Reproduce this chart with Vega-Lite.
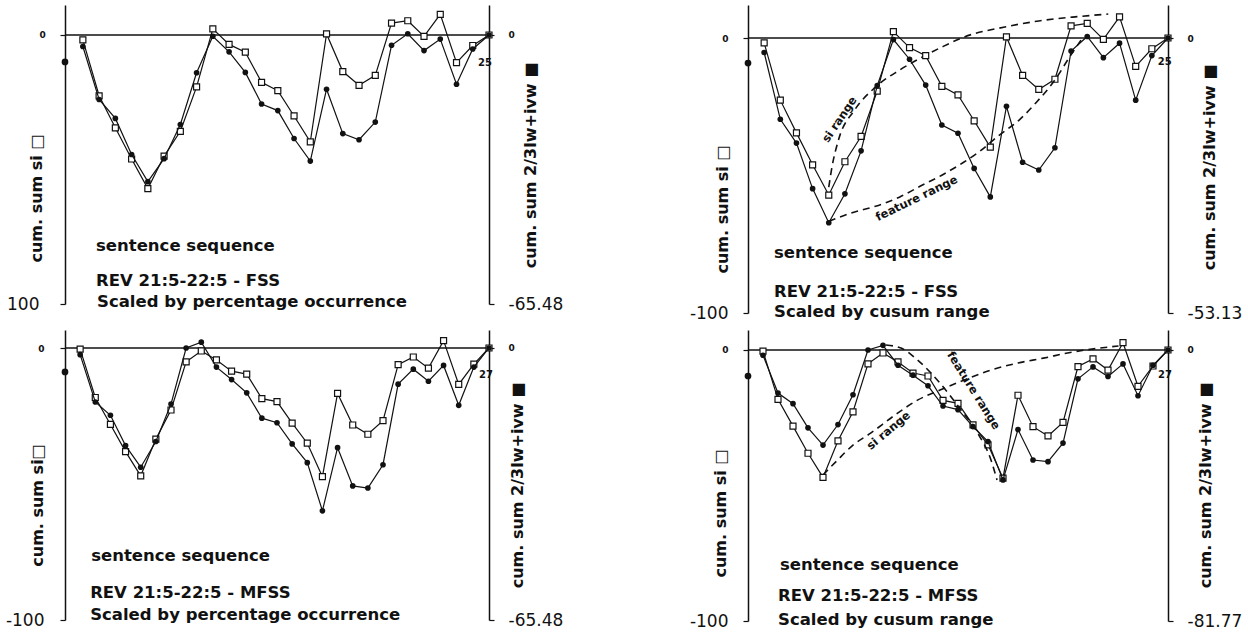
{
  "$schema": "https://vega.github.io/schema/vega-lite/v6.json",
  "background": "white",
  "padding": {"left": 5, "top": 5, "right": 0, "bottom": 0},
  "datasets": {
    "fss": [
      {"i": 0, "si": -1.8, "feat": -2.8},
      {"i": 1, "si": -22.6, "feat": -15.7},
      {"i": 2, "si": -34.5, "feat": -20.3},
      {"i": 3, "si": -46.1, "feat": -29.1},
      {"i": 4, "si": -57.1, "feat": -35.7},
      {"i": 5, "si": -45.0, "feat": -30.1},
      {"i": 6, "si": -35.8, "feat": -21.8},
      {"i": 7, "si": -19.3, "feat": -9.2},
      {"i": 8, "si": 2.3, "feat": -0.3},
      {"i": 9, "si": -3.5, "feat": -4.1},
      {"i": 10, "si": -6.4, "feat": -9.1},
      {"i": 11, "si": -17.6, "feat": -16.8},
      {"i": 12, "si": -20.7, "feat": -18.4},
      {"i": 13, "si": -30.1, "feat": -25.2},
      {"i": 14, "si": -39.7, "feat": -30.7},
      {"i": 15, "si": 0.4, "feat": -13.2},
      {"i": 16, "si": -13.6, "feat": -24.0},
      {"i": 17, "si": -18.7, "feat": -25.5},
      {"i": 18, "si": -15.0, "feat": -21.2},
      {"i": 19, "si": 4.4, "feat": -2.5},
      {"i": 20, "si": 5.3, "feat": 0.3},
      {"i": 21, "si": -0.5, "feat": -3.8},
      {"i": 22, "si": 7.7, "feat": -1.0},
      {"i": 23, "si": -10.3, "feat": -12.0},
      {"i": 24, "si": -3.9, "feat": -3.4},
      {"i": 25, "si": 0, "feat": 0}
    ],
    "mfss": [
      {"i": 0, "si": -0.4, "feat": -1.6},
      {"i": 1, "si": -18.2, "feat": -13.0},
      {"i": 2, "si": -28.1, "feat": -16.2},
      {"i": 3, "si": -38.1, "feat": -23.5},
      {"i": 4, "si": -47.0, "feat": -28.7},
      {"i": 5, "si": -33.5, "feat": -22.5},
      {"i": 6, "si": -22.8, "feat": -13.5},
      {"i": 7, "si": -5.1, "feat": 0},
      {"i": 8, "si": -1.1, "feat": 1.4},
      {"i": 9, "si": -4.4, "feat": -4.6},
      {"i": 10, "si": -8.5, "feat": -7.6},
      {"i": 11, "si": -9.6, "feat": -10.8},
      {"i": 12, "si": -18.6, "feat": -16.9},
      {"i": 13, "si": -19.7, "feat": -18.0},
      {"i": 14, "si": -27.6, "feat": -23.1},
      {"i": 15, "si": -35.0, "feat": -27.6},
      {"i": 16, "si": -47.3, "feat": -39.2},
      {"i": 17, "si": -16.7, "feat": -24.0},
      {"i": 18, "si": -28.3, "feat": -33.2},
      {"i": 19, "si": -31.7, "feat": -33.7},
      {"i": 20, "si": -26.7, "feat": -28.1},
      {"i": 21, "si": -6.1, "feat": -8.7},
      {"i": 22, "si": -3.3, "feat": -5.1},
      {"i": 23, "si": -7.4, "feat": -8.0},
      {"i": 24, "si": 2.7, "feat": -4.2},
      {"i": 25, "si": -13.4, "feat": -13.8},
      {"i": 26, "si": -5.9, "feat": -4.6},
      {"i": 27, "si": 0, "feat": 0}
    ],
    "p2si": [
      {"i": 4.0, "si": -54.2}, {"i": 4.2, "si": -46.9}, {"i": 4.6, "si": -37.1}, {"i": 5.6, "si": -26.2},
      {"i": 6.9, "si": -17.8}, {"i": 8.4, "si": -11.6}, {"i": 9.8, "si": -6.9}, {"i": 11.0, "si": -3.3},
      {"i": 12.4, "si": 0.4}, {"i": 14.9, "si": 4.0}, {"i": 17.0, "si": 6.2}, {"i": 19.1, "si": 7.6}, {"i": 21.3, "si": 8.7}
    ],
    "p2feat": [
      {"i": 4.0, "feat": -35.4}, {"i": 5.6, "feat": -33.6}, {"i": 6.9, "feat": -32.5}, {"i": 8.4, "feat": -30.7},
      {"i": 9.8, "feat": -28.4}, {"i": 11.0, "feat": -26.5}, {"i": 12.3, "feat": -24.1}, {"i": 13.3, "feat": -22.0},
      {"i": 14.5, "feat": -18.9}, {"i": 15.8, "feat": -15.8}, {"i": 16.8, "feat": -12.6}, {"i": 18.0, "feat": -8.1},
      {"i": 18.9, "feat": -3.7}, {"i": 19.7, "feat": 0}
    ],
    "p4si": [
      {"i": 4.0, "si": -46.1}, {"i": 4.9, "si": -41.0}, {"i": 6.0, "si": -35.1}, {"i": 7.2, "si": -30.6},
      {"i": 8.7, "si": -24.4}, {"i": 10.3, "si": -18.5}, {"i": 11.8, "si": -14.8}, {"i": 13.4, "si": -11.1},
      {"i": 15.2, "si": -7.4}, {"i": 17.0, "si": -4.8}, {"i": 18.7, "si": -3.0}, {"i": 20.3, "si": -1.1}, {"i": 23.7, "si": 1.5}
    ],
    "p4feat": [
      {"i": 8.2, "feat": 1.5}, {"i": 9.2, "feat": 0.6}, {"i": 10.3, "feat": -3.0}, {"i": 11.8, "feat": -10.0},
      {"i": 13.2, "feat": -18.1}, {"i": 14.3, "feat": -25.0}, {"i": 15.2, "feat": -33.2}, {"i": 15.6, "feat": -39.2}
    ]
  },
  "vconcat": [
    {
      "spacing": 126,
      "hconcat": [
        {
          "width": 424, "height": 299,
          "resolve": {"scale": {"y": "independent"}},
          "layer": [
            {"layer": [
              {"data": {"values": [{}]}, "mark": {"type": "rule", "color": "#111", "strokeWidth": 1.4}, "encoding": {"y": {"datum": 0, "type": "quantitative"}}},
              {"data": {"name": "fss"}, "mark": {"type": "line", "color": "#111", "strokeWidth": 1.2},
               "encoding": {
                 "x": {"field": "i", "type": "quantitative", "scale": {"domain": [-1.1, 25], "nice": false, "zero": false}, "axis": null},
                 "y": {"field": "si", "type": "quantitative", "scale": {"domain": [-100, 11.15], "nice": false, "zero": false},
                   "axis": {"orient": "left", "values": [0, -100], "title": "cum. sum si □",
                     "labelExpr": "datum.value == 0 ? '0' : '100'",
                     "labelFontSize": {"condition": {"test": "datum.value == 0", "value": 9}, "value": 17},
                     "labelFontWeight": {"condition": {"test": "datum.value == 0", "value": "bold"}, "value": "normal"},
                     "labelAlign": {"condition": {"test": "datum.value == 0", "value": "left"}, "value": "right"},
                     "labelPadding": 21, "titleX": -29, "titleY": 193}}}},
              {"data": {"name": "fss"}, "mark": {"type": "point", "shape": "square", "fill": "white", "stroke": "#111", "strokeWidth": 1.2, "size": 36, "opacity": 1},
               "encoding": {"x": {"field": "i", "type": "quantitative"}, "y": {"field": "si", "type": "quantitative"}}},
              {"data": {"values": [{}]}, "mark": {"type": "point", "shape": "circle", "filled": true, "color": "#111", "size": 45, "opacity": 1},
               "encoding": {"x": {"datum": -1.1, "type": "quantitative"}, "y": {"datum": -10, "type": "quantitative"}}},
              {"data": {"values": [{}]}, "mark": {"type": "text", "text": "25", "fontSize": 10, "align": "center", "baseline": "middle"},
               "encoding": {"x": {"datum": 24.75, "type": "quantitative"}, "y": {"datum": -10.4, "type": "quantitative"}}},
              {"data": {"values": [{}]}, "mark": {"type": "text", "text": "sentence sequence", "fontSize": 16.5, "align": "left", "baseline": "alphabetic"},
               "encoding": {"x": {"datum": 0.81, "type": "quantitative"}, "y": {"datum": -80.2, "type": "quantitative"}}},
              {"data": {"values": [{}]}, "mark": {"type": "text", "text": "REV 21:5-22:5 - FSS", "fontSize": 16.5, "align": "left", "baseline": "alphabetic"},
               "encoding": {"x": {"datum": 0.81, "type": "quantitative"}, "y": {"datum": -93.3, "type": "quantitative"}}},
              {"data": {"values": [{}]}, "mark": {"type": "text", "text": "Scaled by percentage occurrence", "fontSize": 16.5, "align": "left", "baseline": "alphabetic"},
               "encoding": {"x": {"datum": 0.87, "type": "quantitative"}, "y": {"datum": -101, "type": "quantitative"}}}
            ]},
            {"layer": [
              {"data": {"name": "fss"}, "mark": {"type": "line", "color": "#111", "strokeWidth": 1.2},
               "encoding": {
                 "x": {"field": "i", "type": "quantitative", "scale": {"domain": [-1.1, 25], "nice": false, "zero": false}, "axis": null},
                 "y": {"field": "feat", "type": "quantitative", "scale": {"domain": [-65.48, 7.3], "nice": false, "zero": false},
                   "axis": {"orient": "right", "values": [0, -65.48], "title": "cum. sum 2/3lw+ivw ■",
                     "labelExpr": "datum.value == 0 ? '0' : '-65.48'",
                     "labelFontSize": {"condition": {"test": "datum.value == 0", "value": 9}, "value": 17},
                     "labelFontWeight": {"condition": {"test": "datum.value == 0", "value": "bold"}, "value": "normal"},
                     "labelPadding": 14, "titleX": 41, "titleY": 160}}}},
              {"data": {"name": "fss"}, "mark": {"type": "point", "shape": "circle", "filled": true, "color": "#111", "size": 32, "opacity": 1},
               "encoding": {"x": {"field": "i", "type": "quantitative"}, "y": {"field": "feat", "type": "quantitative"}}}
            ]}
          ]
        },
        {
          "width": 420, "height": 308,
          "resolve": {"scale": {"y": "independent"}},
          "layer": [
            {"layer": [
              {"data": {"values": [{}]}, "mark": {"type": "rule", "color": "#111", "strokeWidth": 1.4}, "encoding": {"y": {"datum": 0, "type": "quantitative"}}},
              {"data": {"name": "fss"}, "mark": {"type": "line", "color": "#111", "strokeWidth": 1.2},
               "encoding": {
                 "x": {"field": "i", "type": "quantitative", "scale": {"domain": [-1, 25], "nice": false, "zero": false}, "axis": null},
                 "y": {"field": "si", "type": "quantitative", "scale": {"domain": [-100, 12.0], "nice": false, "zero": false},
                   "axis": {"orient": "left", "values": [0, -100], "title": "cum. sum si □",
                     "labelExpr": "datum.value == 0 ? '0' : '-100'",
                     "labelFontSize": {"condition": {"test": "datum.value == 0", "value": 9}, "value": 17},
                     "labelFontWeight": {"condition": {"test": "datum.value == 0", "value": "bold"}, "value": "normal"},
                     "labelAlign": "right",
                     "labelPadding": 15, "titleX": -26, "titleY": 204}}}},
              {"data": {"name": "p2si"}, "mark": {"type": "line", "color": "#111", "strokeWidth": 1.6, "strokeDash": [7, 5], "interpolate": "monotone"},
               "encoding": {"x": {"field": "i", "type": "quantitative"}, "y": {"field": "si", "type": "quantitative"}}},
              {"data": {"name": "fss"}, "mark": {"type": "point", "shape": "square", "fill": "white", "stroke": "#111", "strokeWidth": 1.2, "size": 36, "opacity": 1},
               "encoding": {"x": {"field": "i", "type": "quantitative"}, "y": {"field": "si", "type": "quantitative"}}},
              {"data": {"values": [{}]}, "mark": {"type": "point", "shape": "circle", "filled": true, "color": "#111", "size": 45, "opacity": 1},
               "encoding": {"x": {"datum": -1, "type": "quantitative"}, "y": {"datum": -9.1, "type": "quantitative"}}},
              {"data": {"values": [{}]}, "mark": {"type": "text", "text": "25", "fontSize": 10, "align": "center", "baseline": "middle"},
               "encoding": {"x": {"datum": 24.8, "type": "quantitative"}, "y": {"datum": -8.7, "type": "quantitative"}}},
              {"data": {"values": [{}]}, "mark": {"type": "text", "text": "si range", "fontSize": 11.5, "align": "center", "baseline": "middle", "angle": -56},
               "encoding": {"x": {"datum": 4.7, "type": "quantitative"}, "y": {"datum": -29.8, "type": "quantitative"}}},
              {"data": {"values": [{}]}, "mark": {"type": "text", "text": "feature range", "fontSize": 11.5, "align": "center", "baseline": "middle", "angle": -26},
               "encoding": {"x": {"datum": 9.46, "type": "quantitative"}, "y": {"datum": -58.5, "type": "quantitative"}}},
              {"data": {"values": [{}]}, "mark": {"type": "text", "text": "sentence sequence", "fontSize": 16.5, "align": "left", "baseline": "alphabetic"},
               "encoding": {"x": {"datum": 0.61, "type": "quantitative"}, "y": {"datum": -80, "type": "quantitative"}}},
              {"data": {"values": [{}]}, "mark": {"type": "text", "text": "REV 21:5-22:5 - FSS", "fontSize": 16.5, "align": "left", "baseline": "alphabetic"},
               "encoding": {"x": {"datum": 0.61, "type": "quantitative"}, "y": {"datum": -94.1, "type": "quantitative"}}},
              {"data": {"values": [{}]}, "mark": {"type": "text", "text": "Scaled by cusum range", "fontSize": 16.5, "align": "left", "baseline": "alphabetic"},
               "encoding": {"x": {"datum": 0.61, "type": "quantitative"}, "y": {"datum": -101.3, "type": "quantitative"}}}
            ]},
            {"layer": [
              {"data": {"name": "fss"}, "mark": {"type": "line", "color": "#111", "strokeWidth": 1.2},
               "encoding": {
                 "x": {"field": "i", "type": "quantitative", "scale": {"domain": [-1, 25], "nice": false, "zero": false}, "axis": null},
                 "y": {"field": "feat", "type": "quantitative", "scale": {"domain": [-53.13, 6.38], "nice": false, "zero": false},
                   "axis": {"orient": "right", "values": [0, -53.13], "title": "cum. sum 2/3lw+ivw ■",
                     "labelExpr": "datum.value == 0 ? '0' : '-53.13'",
                     "labelFontSize": {"condition": {"test": "datum.value == 0", "value": 9}, "value": 17},
                     "labelFontWeight": {"condition": {"test": "datum.value == 0", "value": "bold"}, "value": "normal"},
                     "labelPadding": 14, "titleX": 41, "titleY": 162}}}},
              {"data": {"name": "p2feat"}, "mark": {"type": "line", "color": "#111", "strokeWidth": 1.6, "strokeDash": [7, 5], "interpolate": "monotone"},
               "encoding": {"x": {"field": "i", "type": "quantitative"}, "y": {"field": "feat", "type": "quantitative"}}},
              {"data": {"name": "fss"}, "mark": {"type": "point", "shape": "circle", "filled": true, "color": "#111", "size": 32, "opacity": 1},
               "encoding": {"x": {"field": "i", "type": "quantitative"}, "y": {"field": "feat", "type": "quantitative"}}}
            ]}
          ]
        }
      ]
    },
    {
      "spacing": 126,
      "hconcat": [
        {
          "width": 424, "height": 290,
          "resolve": {"scale": {"y": "independent"}},
          "layer": [
            {"layer": [
              {"data": {"values": [{}]}, "mark": {"type": "rule", "color": "#111", "strokeWidth": 1.4}, "encoding": {"y": {"datum": 0, "type": "quantitative"}}},
              {"data": {"name": "mfss"}, "mark": {"type": "line", "color": "#111", "strokeWidth": 1.2},
               "encoding": {
                 "x": {"field": "i", "type": "quantitative", "scale": {"domain": [-1, 27], "nice": false, "zero": false}, "axis": null},
                 "y": {"field": "si", "type": "quantitative", "scale": {"domain": [-100, 6.62], "nice": false, "zero": false},
                   "axis": {"orient": "left", "values": [0, -100], "title": "cum. sum si□",
                     "labelExpr": "datum.value == 0 ? '0' : '-100'",
                     "labelFontSize": {"condition": {"test": "datum.value == 0", "value": 9}, "value": 17},
                     "labelFontWeight": {"condition": {"test": "datum.value == 0", "value": "bold"}, "value": "normal"},
                     "labelAlign": "right",
                     "labelPadding": 16, "titleX": -28, "titleY": 175}}}},
              {"data": {"name": "mfss"}, "mark": {"type": "point", "shape": "square", "fill": "white", "stroke": "#111", "strokeWidth": 1.2, "size": 36, "opacity": 1},
               "encoding": {"x": {"field": "i", "type": "quantitative"}, "y": {"field": "si", "type": "quantitative"}}},
              {"data": {"values": [{}]}, "mark": {"type": "point", "shape": "circle", "filled": true, "color": "#111", "size": 45, "opacity": 1},
               "encoding": {"x": {"datum": -1, "type": "quantitative"}, "y": {"datum": -8.8, "type": "quantitative"}}},
              {"data": {"values": [{}]}, "mark": {"type": "text", "text": "27", "fontSize": 10, "align": "center", "baseline": "middle"},
               "encoding": {"x": {"datum": 26.8, "type": "quantitative"}, "y": {"datum": -10, "type": "quantitative"}}},
              {"data": {"values": [{}]}, "mark": {"type": "text", "text": "sentence sequence", "fontSize": 16.5, "align": "left", "baseline": "alphabetic"},
               "encoding": {"x": {"datum": 0.73, "type": "quantitative"}, "y": {"datum": -78.4, "type": "quantitative"}}},
              {"data": {"values": [{}]}, "mark": {"type": "text", "text": "REV 21:5-22:5 - MFSS", "fontSize": 16.5, "align": "left", "baseline": "alphabetic"},
               "encoding": {"x": {"datum": 0.66, "type": "quantitative"}, "y": {"datum": -91.9, "type": "quantitative"}}},
              {"data": {"values": [{}]}, "mark": {"type": "text", "text": "Scaled by percentage occurrence", "fontSize": 16.5, "align": "left", "baseline": "alphabetic"},
               "encoding": {"x": {"datum": 0.66, "type": "quantitative"}, "y": {"datum": -99.9, "type": "quantitative"}}}
            ]},
            {"layer": [
              {"data": {"name": "mfss"}, "mark": {"type": "line", "color": "#111", "strokeWidth": 1.2},
               "encoding": {
                 "x": {"field": "i", "type": "quantitative", "scale": {"domain": [-1, 27], "nice": false, "zero": false}, "axis": null},
                 "y": {"field": "feat", "type": "quantitative", "scale": {"domain": [-65.48, 4.33], "nice": false, "zero": false},
                   "axis": {"orient": "right", "values": [0, -65.48], "title": "cum. sum 2/3lw+ivw ■",
                     "labelExpr": "datum.value == 0 ? '0' : '-65.48'",
                     "labelFontSize": {"condition": {"test": "datum.value == 0", "value": 9}, "value": 17},
                     "labelFontWeight": {"condition": {"test": "datum.value == 0", "value": "bold"}, "value": "normal"},
                     "labelPadding": 14, "titleX": 28, "titleY": 155}}}},
              {"data": {"name": "mfss"}, "mark": {"type": "point", "shape": "circle", "filled": true, "color": "#111", "size": 32, "opacity": 1},
               "encoding": {"x": {"field": "i", "type": "quantitative"}, "y": {"field": "feat", "type": "quantitative"}}}
            ]}
          ]
        },
        {
          "width": 420, "height": 291,
          "resolve": {"scale": {"y": "independent"}},
          "layer": [
            {"layer": [
              {"data": {"values": [{}]}, "mark": {"type": "rule", "color": "#111", "strokeWidth": 1.4}, "encoding": {"y": {"datum": 0, "type": "quantitative"}}},
              {"data": {"name": "mfss"}, "mark": {"type": "line", "color": "#111", "strokeWidth": 1.2},
               "encoding": {
                 "x": {"field": "i", "type": "quantitative", "scale": {"domain": [-1, 27], "nice": false, "zero": false}, "axis": null},
                 "y": {"field": "si", "type": "quantitative", "scale": {"domain": [-100, 7.38], "nice": false, "zero": false},
                   "axis": {"orient": "left", "values": [0, -100], "title": "cum. sum si  □",
                     "labelExpr": "datum.value == 0 ? '0' : '-100'",
                     "labelFontSize": {"condition": {"test": "datum.value == 0", "value": 9}, "value": 17},
                     "labelFontWeight": {"condition": {"test": "datum.value == 0", "value": "bold"}, "value": "normal"},
                     "labelAlign": "right",
                     "labelPadding": 15, "titleX": -28, "titleY": 183}}}},
              {"data": {"name": "p4si"}, "mark": {"type": "line", "color": "#111", "strokeWidth": 1.6, "strokeDash": [7, 5], "interpolate": "monotone"},
               "encoding": {"x": {"field": "i", "type": "quantitative"}, "y": {"field": "si", "type": "quantitative"}}},
              {"data": {"name": "mfss"}, "mark": {"type": "point", "shape": "square", "fill": "white", "stroke": "#111", "strokeWidth": 1.2, "size": 36, "opacity": 1},
               "encoding": {"x": {"field": "i", "type": "quantitative"}, "y": {"field": "si", "type": "quantitative"}}},
              {"data": {"values": [{}]}, "mark": {"type": "point", "shape": "circle", "filled": true, "color": "#111", "size": 45, "opacity": 1},
               "encoding": {"x": {"datum": -1, "type": "quantitative"}, "y": {"datum": -9.6, "type": "quantitative"}}},
              {"data": {"values": [{}]}, "mark": {"type": "text", "text": "27", "fontSize": 10, "align": "center", "baseline": "middle"},
               "encoding": {"x": {"datum": 26.8, "type": "quantitative"}, "y": {"datum": -9.2, "type": "quantitative"}}},
              {"data": {"values": [{}]}, "mark": {"type": "text", "text": "si range", "fontSize": 11.5, "align": "center", "baseline": "middle", "angle": -40},
               "encoding": {"x": {"datum": 8.4, "type": "quantitative"}, "y": {"datum": -29.9, "type": "quantitative"}}},
              {"data": {"values": [{}]}, "mark": {"type": "text", "text": "feature range", "fontSize": 11.5, "align": "center", "baseline": "middle", "angle": 58},
               "encoding": {"x": {"datum": 14.0, "type": "quantitative"}, "y": {"datum": -15.1, "type": "quantitative"}}},
              {"data": {"values": [{}]}, "mark": {"type": "text", "text": "sentence sequence", "fontSize": 16.5, "align": "left", "baseline": "alphabetic"},
               "encoding": {"x": {"datum": 1.13, "type": "quantitative"}, "y": {"datum": -81.1, "type": "quantitative"}}},
              {"data": {"values": [{}]}, "mark": {"type": "text", "text": "REV 21:5-22:5 - MFSS", "fontSize": 16.5, "align": "left", "baseline": "alphabetic"},
               "encoding": {"x": {"datum": 1.0, "type": "quantitative"}, "y": {"datum": -92.7, "type": "quantitative"}}},
              {"data": {"values": [{}]}, "mark": {"type": "text", "text": "Scaled by cusum range", "fontSize": 16.5, "align": "left", "baseline": "alphabetic"},
               "encoding": {"x": {"datum": 1.0, "type": "quantitative"}, "y": {"datum": -101.4, "type": "quantitative"}}}
            ]},
            {"layer": [
              {"data": {"name": "mfss"}, "mark": {"type": "line", "color": "#111", "strokeWidth": 1.2},
               "encoding": {
                 "x": {"field": "i", "type": "quantitative", "scale": {"domain": [-1, 27], "nice": false, "zero": false}, "axis": null},
                 "y": {"field": "feat", "type": "quantitative", "scale": {"domain": [-81.77, 6.03], "nice": false, "zero": false},
                   "axis": {"orient": "right", "values": [0, -81.77], "title": "cum. sum 2/3lw+ivw ■",
                     "labelExpr": "datum.value == 0 ? '0' : '-81.77'",
                     "labelFontSize": {"condition": {"test": "datum.value == 0", "value": 9}, "value": 17},
                     "labelFontWeight": {"condition": {"test": "datum.value == 0", "value": "bold"}, "value": "normal"},
                     "labelPadding": 14, "titleX": 37, "titleY": 155}}}},
              {"data": {"name": "p4feat"}, "mark": {"type": "line", "color": "#111", "strokeWidth": 1.6, "strokeDash": [7, 5], "interpolate": "monotone"},
               "encoding": {"x": {"field": "i", "type": "quantitative"}, "y": {"field": "feat", "type": "quantitative"}}},
              {"data": {"name": "mfss"}, "mark": {"type": "point", "shape": "circle", "filled": true, "color": "#111", "size": 32, "opacity": 1},
               "encoding": {"x": {"field": "i", "type": "quantitative"}, "y": {"field": "feat", "type": "quantitative"}}}
            ]}
          ]
        }
      ]
    }
  ],
  "spacing": 9,
  "config": {
    "view": {"stroke": null},
    "axis": {
      "labelFont": "DejaVu Sans", "labelColor": "#111", "labelBaseline": "middle", "labelFlush": false, "labelOverlap": false,
      "domainColor": "#111", "domainWidth": 1.5, "tickColor": "#111", "tickSize": 5, "tickWidth": 1.2, "grid": false,
      "titleFont": "DejaVu Sans", "titleFontSize": 16, "titleFontWeight": "bold", "titleColor": "#111",
      "titleAngle": 270, "titleBaseline": "middle"
    },
    "text": {"font": "DejaVu Sans", "fontWeight": "bold", "color": "#111"}
  }
}
